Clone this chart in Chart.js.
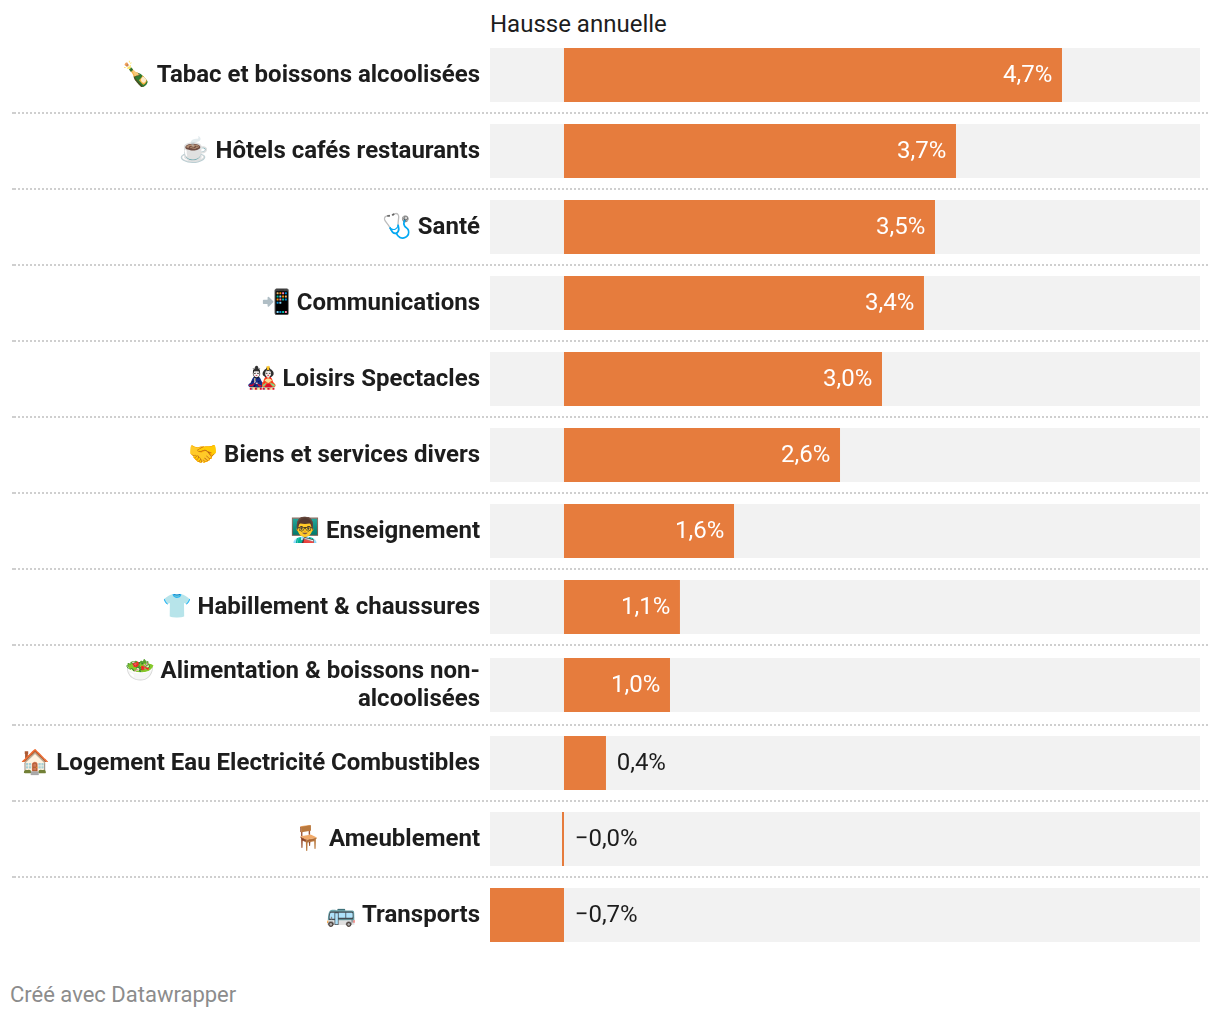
<!DOCTYPE html>
<html>
<head>
<meta charset="utf-8">
<style>
html, body { margin: 0; padding: 0; background: #fff; }
body { width: 1220px; height: 1018px; position: relative; overflow: hidden; font-family: Roboto, sans-serif; }
#wrap { position: absolute; left: 0; top: 0; width: 1220px; height: 960px; }
#titre { position: absolute; left: 490px; top: 10px; font-size: 24px; line-height: 28px; color: #1d1d1d; }
#source { position: absolute; left: 10px; top: 982px; font-size: 22px; line-height: 26px; color: #8c8c8c; }
</style>
<script src="https://cdn.jsdelivr.net/npm/chart.js@4"></script>
</head>
<body>
<div id="titre">Hausse annuelle</div>
<div id="wrap"><canvas id="mycanvas"></canvas></div>
<div id="source">Créé avec Datawrapper</div>
<script>
var categories = [
	"🍾 Tabac et boissons alcoolisées",
	"☕ Hôtels cafés restaurants",
	"🩺 Santé",
	"📲 Communications",
	"🎎 Loisirs Spectacles",
	"🤝 Biens et services divers",
	"👨‍🏫 Enseignement",
	"👕 Habillement & chaussures",
	["🥗 Alimentation & boissons non-", "alcoolisées"],
	"🏠 Logement Eau Electricité Combustibles",
	"🪑 Ameublement",
	"🚌 Transports"
];
var hausse = [4.698, 3.698, 3.5, 3.396, 3.0, 2.604, 1.604, 1.094, 1.0, 0.396, -0.019, -0.698];
var etiquettes = ["4,7%", "3,7%", "3,5%", "3,4%", "3,0%", "2,6%", "1,6%", "1,1%", "1,0%", "0,4%", "−0,0%", "−0,7%"];
var axeMin = -0.698;
var axeMax = 6;

var fond = categories.map(function() { return [axeMin, axeMax]; });

// la ligne sur deux lignes de texte est un peu plus haute que les autres
function hauteurLigne(i) {
	return Array.isArray(categories[i]) ? 80 : 76;
}
function hautLigne(scale, i) {
	var y = scale.top;
	for (var k = 0; k < i; k++) y += hauteurLigne(k);
	return y;
}

class RowScale extends Chart.CategoryScale {
	getPixelForValue(value) {
		var i = typeof value === "number" ? value : this.parse(value);
		return hautLigne(this, i) + hauteurLigne(i) / 2;
	}
	getPixelForTick(index) {
		return super.getPixelForTick(index) + 1;
	}
}
RowScale.id = "rows";
RowScale.defaults = Chart.CategoryScale.defaults;
Chart.register(RowScale);

var rowsPlugin = {
	id: "rowsPlugin",
	beforeDatasetsDraw: function(chart) {
		var ctx = chart.ctx, y = chart.scales.y;
		ctx.save();
		ctx.strokeStyle = "#cfcfcf";
		ctx.lineWidth = 2;
		for (var i = 1; i < categories.length; i++) {
			var yy = hautLigne(y, i);
			ctx.setLineDash([2, 2]);
			ctx.beginPath();
			ctx.moveTo(1208, yy);
			ctx.lineTo(12, yy);
			ctx.stroke();
			ctx.setLineDash([]);
			ctx.beginPath();
			ctx.moveTo(12, yy);
			ctx.lineTo(14, yy);
			ctx.stroke();
		}
		ctx.restore();
	},
	afterDatasetsDraw: function(chart) {
		var ctx = chart.ctx, x = chart.scales.x, y = chart.scales.y;
		ctx.save();
		ctx.font = "24px Roboto";
		ctx.textBaseline = "middle";
		hausse.forEach(function(v, i) {
			var yy = y.getPixelForValue(i) + 1;
			if (v >= 1) {
				ctx.fillStyle = "#fff";
				ctx.textAlign = "right";
				ctx.fillText(etiquettes[i], x.getPixelForValue(v) - 9.7, yy);
			} else {
				ctx.fillStyle = "#1d1d1d";
				ctx.textAlign = "left";
				ctx.fillText(etiquettes[i], x.getPixelForValue(Math.max(v, 0)) + 10.7, yy);
			}
		});
		ctx.restore();
	}
};

var ctx = document.getElementById("mycanvas");
var barGraph = new Chart(ctx, {
	type: "bar",
	plugins: [rowsPlugin],
	data: {
		labels: categories,
		datasets: [
			{ data: hausse, backgroundColor: "#e67c3d", order: 1, clip: false },
			{ data: fond, backgroundColor: "#f2f2f2", order: 2, clip: false }
		]
	},
	options: {
		indexAxis: "y",
		responsive: true,
		maintainAspectRatio: false,
		animation: false,
		layout: { padding: { top: 37, bottom: 7, right: 20, left: 0 } },
		datasets: { bar: { grouped: false, barThickness: 54, inflateAmount: 0 } },
		plugins: { legend: { display: false }, tooltip: { enabled: false } },
		scales: {
			x: { display: false, min: axeMin, max: axeMax },
			y: {
				type: "rows",
				afterFit: function(scale) { scale.width = 490; },
				grid: { display: false, drawTicks: false },
				border: { display: false },
				ticks: { color: "#1d1d1d", padding: 10, font: { family: "Roboto", size: 24, weight: "700", lineHeight: 1.17 }, autoSkip: false }
			}
		}
	}
});
</script>
</body>
</html>
